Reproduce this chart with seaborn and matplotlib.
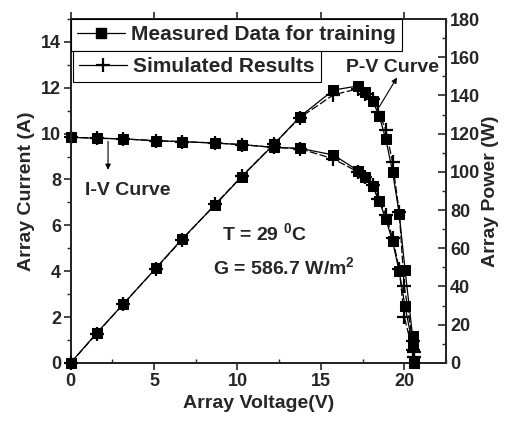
import matplotlib
matplotlib.use('Agg')
import matplotlib.pyplot as plt
from matplotlib.lines import Line2D
from matplotlib.ticker import MultipleLocator
import seaborn as sns
import pandas as pd

# measured I-V / P-V points
v_meas = [0, 1.56, 3.16, 5.10, 6.66, 8.66, 10.26, 12.20, 13.75, 15.75, 17.25,
          17.65, 18.10, 18.50, 18.90, 19.30, 19.70, 20.05, 20.50, 20.60]
i_meas = [9.84, 9.80, 9.77, 9.69, 9.65, 9.59, 9.52, 9.40, 9.36, 9.07, 8.38,
          8.13, 7.70, 7.06, 6.26, 5.31, 3.99, 2.46, 0.80, 0.0]
p_meas = [0, 15.7, 30.8, 49.5, 64.7, 82.7, 97.5, 114.5, 128.9, 142.8, 145.0,
          142.0, 137.3, 129.3, 117.0, 100.1, 78.0, 48.6, 14.0, 0]

# simulated points
v_sim = [0, 1.56, 3.16, 5.10, 6.66, 8.66, 10.26, 12.20, 13.75, 15.75, 17.25,
         17.65, 18.10, 18.45, 18.90, 19.30, 19.70, 20.00, 20.50, 20.60]
i_sim = [9.84, 9.80, 9.77, 9.69, 9.65, 9.59, 9.52, 9.40, 9.34, 8.90, 8.32,
         8.10, 7.75, 7.15, 6.45, 5.45, 4.10, 2.02, 0.55, 0.25]
p_sim = [0, 15.3, 30.9, 49.4, 64.3, 83.0, 97.7, 114.7, 128.4, 140.3, 143.5,
         141.0, 138.0, 131.5, 122.0, 105.0, 79.0, 40.5, 11.5, 5.5]

meas = pd.DataFrame({'V': v_meas, 'I': i_meas, 'P': p_meas})
sim = pd.DataFrame({'V': v_sim, 'I': i_sim, 'P': p_sim})

sns.set_style('ticks')
plt.rcParams['font.family'] = ['Liberation Sans', 'DejaVu Sans']
plt.rcParams['font.weight'] = 'bold'
plt.rcParams['mathtext.fontset'] = 'custom'
plt.rcParams['mathtext.rm'] = 'Liberation Sans:bold'
plt.rcParams['mathtext.bf'] = 'Liberation Sans:bold'
plt.rcParams['axes.linewidth'] = 1.4

fig, ax = plt.subplots(figsize=(5.05, 4.32), dpi=100)
fig.subplots_adjust(left=0.14, right=0.883, bottom=0.16, top=0.956)
ax2 = ax.twinx()

meas_style = dict(color='black', lw=0.9, marker='s', markersize=6.5,
                  markeredgecolor='black', estimator=None, sort=False,
                  clip_on=False, zorder=3)
sim_style = dict(color='black', lw=0.9, marker='+', markersize=10,
                 markeredgewidth=1.6, markeredgecolor='black', estimator=None,
                 sort=False, clip_on=False, zorder=4, linestyle=(0, (6, 2)))

sns.lineplot(data=meas, x='V', y='I', ax=ax, **meas_style)
sns.lineplot(data=sim, x='V', y='I', ax=ax, **sim_style)
sns.lineplot(data=meas, x='V', y='P', ax=ax2, **meas_style)
sns.lineplot(data=sim, x='V', y='P', ax=ax2, **sim_style)

ax.set_xlim(0, 22.5)
ax.set_ylim(0, 15)
ax2.set_ylim(0, 180)

ax.xaxis.set_major_locator(MultipleLocator(5))
ax.xaxis.set_minor_locator(MultipleLocator(2.5))
ax.yaxis.set_major_locator(MultipleLocator(2))
ax.yaxis.set_minor_locator(MultipleLocator(1))
ax2.yaxis.set_major_locator(MultipleLocator(20))
ax2.yaxis.set_minor_locator(MultipleLocator(10))

ax.tick_params(axis='y', which='major', direction='out', length=5, width=1.2, labelsize=13, pad=2)
ax.tick_params(axis='y', which='minor', direction='out', length=3, width=1)
ax.tick_params(axis='x', which='major', direction='out', length=5, width=1.2, labelsize=13, pad=2, top=True)
ax.tick_params(axis='x', which='minor', direction='in', length=3, width=1, top=True)
ax2.tick_params(axis='y', which='major', direction='in', length=6, width=1.2, labelsize=13, pad=3)
ax2.tick_params(axis='y', which='minor', direction='in', length=3, width=1)

ax.set_xlabel('Array Voltage(V)', fontsize=14, fontweight='bold', labelpad=4)
ax.set_ylabel('Array Current (A)', fontsize=14, fontweight='bold', labelpad=4)
ax2.set_ylabel('Array Power (W)', fontsize=14, fontweight='bold', labelpad=1)

# annotations
ax.text(3.45, 7.53, 'I-V Curve', fontsize=14, fontweight='bold', ha='center', va='center')
ax.annotate('', xy=(2.24, 8.3), xytext=(2.24, 9.78),
            arrowprops=dict(arrowstyle='-|>', color='black', lw=0.8, mutation_scale=8))
ax.text(19.27, 12.88, 'P-V Curve', fontsize=14, fontweight='bold', ha='center', va='center')
ax.annotate('', xy=(19.65, 12.55), xytext=(18.43, 11.08),
            arrowprops=dict(arrowstyle='-|>', color='black', lw=0.8, mutation_scale=8))
ax.text(9.1, 5.64, r'T = 29 $^{0}$C', fontsize=14, fontweight='bold', ha='left', va='center')
ax.text(8.55, 4.15, r'G = 586.7 W/m$^{2}$', fontsize=14, fontweight='bold', ha='left', va='center')

# two separate legend boxes, as in the original
h_meas = Line2D([], [], color='black', lw=0.9, marker='s', markersize=6.5)
h_sim = Line2D([], [], color='black', lw=0.9, marker='+', markersize=10, markeredgewidth=1.6)
leg_kw = dict(frameon=True, fancybox=False, edgecolor='black', framealpha=1,
              borderaxespad=0, handlelength=2.3, handletextpad=0.3,
              borderpad=0.3, prop={'size': 15, 'weight': 'bold'})
leg1 = ax2.legend([h_meas], ['Measured Data for training'], loc='upper left',
                  bbox_to_anchor=(0.0, 1.0), **leg_kw)
leg1.get_frame().set_linewidth(0.8)
ax2.add_artist(leg1)
leg2 = ax2.legend([h_sim], ['Simulated Results'], loc='upper left',
                  bbox_to_anchor=(0.005, 0.907), **leg_kw)
leg2.get_frame().set_linewidth(0.8)

fig.savefig('out.png', dpi=100)
